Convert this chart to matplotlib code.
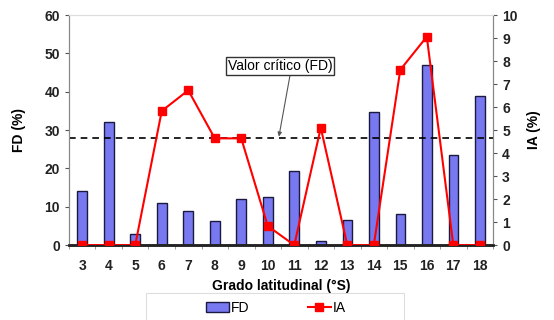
import matplotlib
matplotlib.use("Agg")
import matplotlib.pyplot as plt
from matplotlib.patches import Rectangle
import numpy as np

# ==========================
# Data
# ==========================

grados = ["3", "4", "5", "6", "7", "8", "9", "10", "11",
          "12", "13", "14", "15", "16", "17", "18"]

fd = [14.2, 32.1, 2.8, 11.0, 9.0, 6.3, 12.0, 12.6, 19.3,
      1.0, 6.5, 34.7, 8.0, 47.0, 23.5, 38.8]

ia = [0, 0, 0, 5.83, 6.73, 4.64, 4.64, 0.83, 0,
      5.1, 0, 0, 7.62, 9.06, 0, 0]

valor_critico = 28

plt.rcParams["font.family"] = ["Liberation Sans", "DejaVu Sans"]

# ==========================
# Figure
# ==========================

fig = plt.figure(figsize=(5.54, 3.2), dpi=100)
ax = fig.add_axes([0.1245, 0.234, 0.7655, 0.719])
ax2 = ax.twinx()

x = np.arange(len(grados))

ax.bar(x, fd, width=0.36, color="#7878f0", edgecolor="#1a1a40",
       linewidth=1.0, label="FD", zorder=2)

ax.axhline(valor_critico, color="black", linestyle=(0, (4, 3)),
           linewidth=1.2, zorder=3)

ax2.plot(x, ia, color="red", linewidth=1.5, marker="s",
         markersize=6, label="IA", zorder=4)

ax.set_xlim(-0.5, len(grados) - 0.5)
ax.set_ylim(0, 60)
ax2.set_ylim(0, 10)

ax.set_xticks(x)
ax.set_xticklabels(grados)
ax.set_xticks(np.arange(-0.5, len(grados), 1), minor=True)
ax.tick_params(axis="x", which="major", length=0, pad=10, labelsize=10,
               labelcolor="#222222")
ax.tick_params(axis="x", which="minor", length=3, color="#888888")
ax.set_yticks(np.arange(0, 61, 10))
ax.tick_params(axis="y", length=3, color="#555555", labelsize=10,
               labelcolor="#222222")
ax2.set_yticks(np.arange(0, 11, 1))
ax2.tick_params(axis="y", length=3, color="#555555", labelsize=10,
                labelcolor="#222222")
for lbl in ax.get_xticklabels() + ax.get_yticklabels() + ax2.get_yticklabels():
    lbl.set_fontweight("bold")

for a in (ax, ax2):
    a.spines["left"].set_color("#888888")
    a.spines["right"].set_color("#888888")
    a.spines["top"].set_color("#dddddd")
    a.spines["bottom"].set_color("#222222")
    a.spines["bottom"].set_linewidth(1.8)

ax.set_xlabel("Grado latitudinal (°S)", fontsize=10, fontweight="bold",
              labelpad=4)
ax.set_ylabel("FD (%)", fontsize=10, fontweight="bold", labelpad=13)
ax2.set_ylabel("IA (%)", fontsize=10, fontweight="bold", labelpad=7)

# Valor critico label
ax.annotate("Valor crítico (FD)", xy=(7.42, valor_critico + 0.3),
            xytext=(7.46, 46.7), fontsize=10, ha="center", va="center",
            bbox=dict(boxstyle="square,pad=0.15", fc="white",
                      ec="#333333", lw=1.0),
            arrowprops=dict(arrowstyle="-|>", color="#555555", lw=0.8,
                            mutation_scale=6, shrinkA=0, shrinkB=0,
                            relpos=(0.6, 0)),
            zorder=5)

# ==========================
# Legend
# ==========================

fig.patches.append(Rectangle((146 / 554, -0.01), 258 / 554, 0.095,
                             transform=fig.transFigure, fill=False,
                             edgecolor="#dddddd", linewidth=0.8))

h1, l1 = ax.get_legend_handles_labels()
h2, l2 = ax2.get_legend_handles_labels()
leg = fig.legend(h1 + h2, l1 + l2, loc="center",
                 bbox_to_anchor=(276 / 554, 0.037), ncol=2, fontsize=10,
                 frameon=False, columnspacing=4.2,
                 handlelength=1.65, handletextpad=0.15)

fig.savefig("out.png", dpi=100)
